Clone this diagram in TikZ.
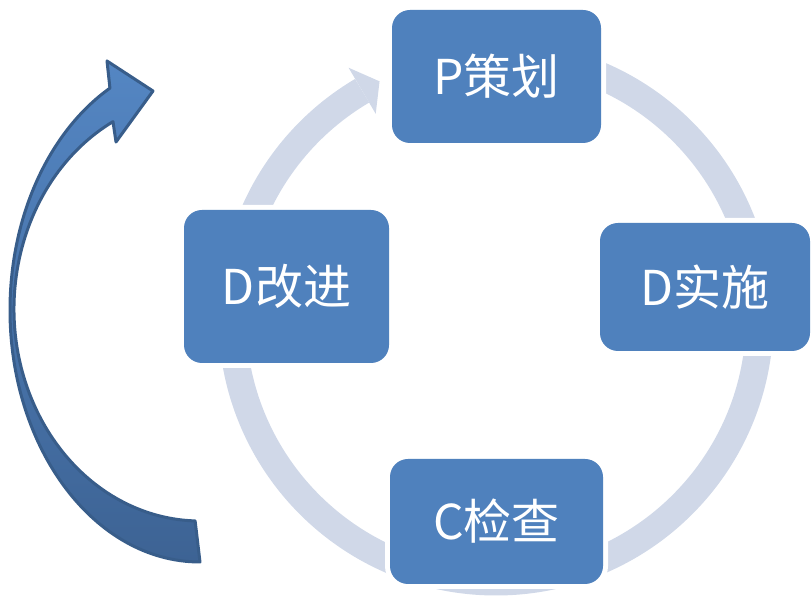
\documentclass[tikz,border=0pt]{standalone}
\usepackage{fontspec}
\newfontfamily\cjk{Noto Sans CJK SC}
\usetikzlibrary{calc}
\definecolor{boxblue}{HTML}{4F81BD}
\definecolor{ringc}{HTML}{D0D8E8}
\definecolor{arrowline}{HTML}{385D8A}
\definecolor{arrowtop}{HTML}{5486C3}
\definecolor{arrowbot}{HTML}{3D6394}
\begin{document}
\begin{tikzpicture}[x=1pt,y=1pt,
  ring/.style={draw=ringc, line width=27.5pt},
  box/.style={fill=boxblue, rounded corners=18pt,
    preaction={draw=white, line width=10pt, rounded corners=18pt},
    text=white, font=\cjk\fontsize{48}{56}\selectfont, inner sep=0pt},
]
\useasboundingbox (0,0) rectangle (812,596);
\coordinate (C) at (496,278);
% cycle ring
\draw[ring] ($(C)+(180:263.75)$) arc[start angle=180, end angle=120.5, radius=263.75];
\fill[ringc] ($(C)+(120.5:290.5)$) -- ($(C)+(116.2:263.75)$) -- ($(C)+(120.5:237)$) -- cycle;
\draw[ring] ($(C)+(90:263.75)$) arc[start angle=90, end angle=-180, radius=263.75];
% boxes
\node[box, minimum width=209pt, minimum height=133pt] (P) at (496.5,519.5) {P策划};
\node[box, minimum width=210pt, minimum height=128pt] (Dimpl) at (705,309) {D实施};
\node[box, minimum width=213pt, minimum height=125pt] (Chk) at (496.5,74.5) {C检查};
\node[box, minimum width=205pt, minimum height=153pt] (Dimp) at (286.5,309.5) {D改进};
% big curved arrow on the left
\shadedraw[top color=arrowtop, bottom color=arrowbot, draw=arrowline, line width=3pt, line join=round]
  (200,34) arc[start angle=-90, end angle=-241.7, x radius=190, y radius=252]
  -- (107,535) -- (153,505) -- (116,454) -- ($(200,287)+(117.9:186 and 212)$)
  arc[start angle=117.9, end angle=268.5, x radius=186, y radius=212]
  -- cycle;
\end{tikzpicture}
\end{document}
